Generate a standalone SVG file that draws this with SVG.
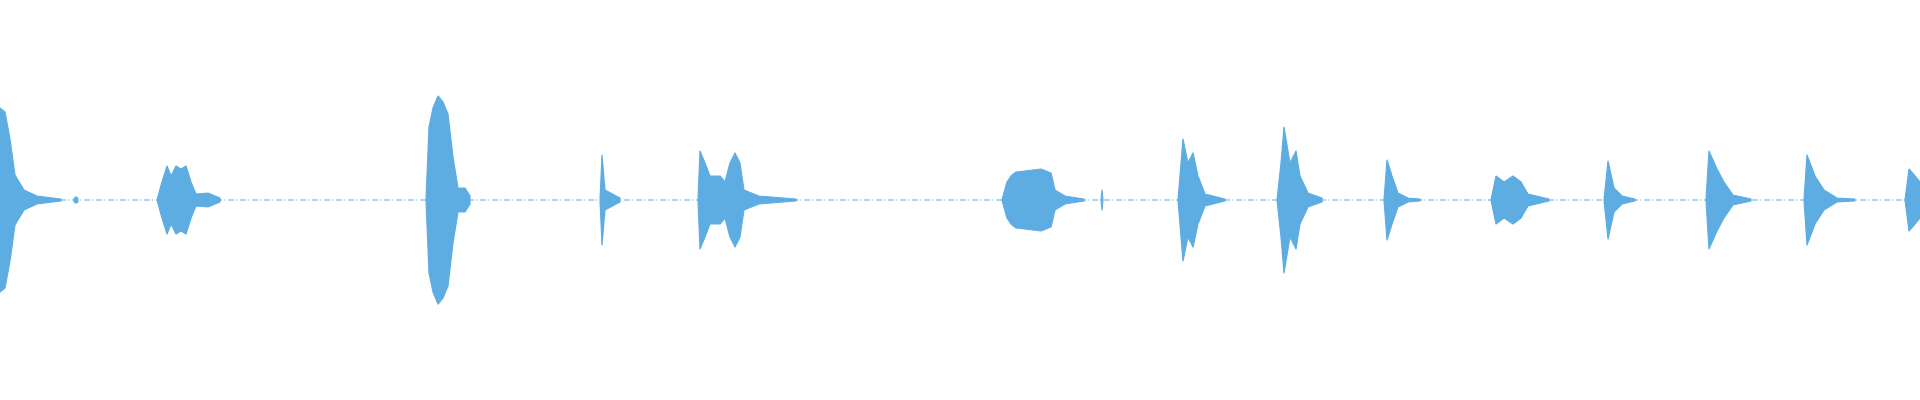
<svg xmlns="http://www.w3.org/2000/svg" width="1920" height="400" viewBox="0 0 1920 400">
<style>.w{fill:#5dade2;stroke:#5dade2;stroke-width:1.2;stroke-linejoin:round}.b{stroke:#5dade2;stroke-width:1;stroke-dasharray:6 2 1 3}</style>
<rect width="1920" height="400" fill="#fff"/>
<line class="b" x1="0" y1="200" x2="1920" y2="200"/>
<path class="w" d="M0,108 L5,112 L10,139 L15,175 L24,190 L37,196 L61,199 L61,201 L37,204 L24,210 L15,225 L10,261 L5,288 L0,292Z"/>
<ellipse class="w" cx="76" cy="200" rx="2" ry="3"/>
<path class="w" d="M157,200 L162,182 L167,166 L171,176 L176,166 L181,169 L186,166 L191,182 L196,194 L208,193 L220,198 L220,202 L208,207 L196,206 L191,218 L186,234 L181,231 L176,234 L171,224 L167,234 L162,218Z"/>
<path class="w" d="M426,200 L429,127 L433,108 L438,96 L443,102 L448,114 L453,157 L458,188 L465,188 L470,196 L470,204 L465,212 L458,212 L453,243 L448,286 L443,298 L438,304 L433,292 L429,273Z"/>
<path class="w" d="M600,200 L602,155 L605,190 L620,198 L620,202 L605,210 L602,245Z"/>
<path class="w" d="M698,200 L700,151 L705,163 L710,176 L720,176 L725,182 L730,163 L735,153 L740,163 L744,190 L759,196 L796,199 L796,201 L759,204 L744,210 L740,237 L735,247 L730,237 L725,218 L720,224 L710,224 L705,237 L700,249Z"/>
<path class="w" d="M1002,200 L1007,182 L1011,176 L1016,172 L1041,169 L1051,173 L1055,190 L1065,196 L1084,199 L1084,201 L1065,204 L1055,210 L1051,227 L1041,231 L1016,228 L1011,224 L1007,218Z"/>
<path class="w" d="M1101,200 L1102,190 L1103,200 L1102,210Z"/>
<path class="w" d="M1178,200 L1183,139 L1188,163 L1193,153 L1198,176 L1205,194 L1225,199 L1225,201 L1205,206 L1198,224 L1193,247 L1188,237 L1183,261Z"/>
<path class="w" d="M1277,200 L1281,163 L1284,127 L1290,163 L1296,151 L1300,176 L1308,193 L1322,198 L1322,202 L1308,207 L1300,224 L1296,249 L1290,237 L1284,273 L1281,237Z"/>
<path class="w" d="M1384,200 L1387,160 L1392,176 L1398,193 L1408,198 L1420,199 L1420,201 L1408,202 L1398,207 L1392,224 L1387,240Z"/>
<path class="w" d="M1491,200 L1496,176 L1504,182 L1513,176 L1521,182 L1528,194 L1549,199 L1549,201 L1528,206 L1521,218 L1513,224 L1504,218 L1496,224Z"/>
<path class="w" d="M1604,200 L1608,161 L1614,188 L1622,196 L1635,199 L1635,201 L1622,204 L1614,212 L1608,239Z"/>
<path class="w" d="M1706,200 L1709,151 L1717,169 L1724,182 L1733,195 L1751,199 L1751,201 L1733,205 L1724,218 L1717,231 L1709,249Z"/>
<path class="w" d="M1804,200 L1807,155 L1815,176 L1824,190 L1837,198 L1855,199 L1855,201 L1837,202 L1824,210 L1815,224 L1807,245Z"/>
<path class="w" d="M1905,200 L1909,169 L1915,176 L1920,182 L1920,218 L1915,224 L1909,231Z"/>
</svg>
